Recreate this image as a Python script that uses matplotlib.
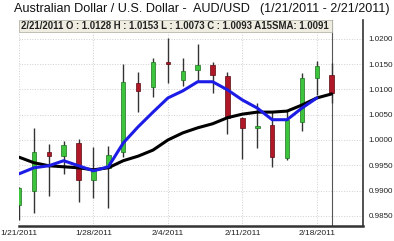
import numpy as np
import matplotlib
matplotlib.use("Agg")
import matplotlib.pyplot as plt
from matplotlib.patches import Rectangle

plt.rcParams['font.family'] = ['Liberation Sans', 'DejaVu Sans']

# trading days 1/21/2011 .. 2/21/2011 (weekdays only)
tick_labels = ['1/21/2011', '1/28/2011', '2/4/2011', '2/11/2011', '2/18/2011']
tick_pos = [0, 5, 10, 15, 20]

opens = [0.9872, 0.9899, 0.9976, 0.9968, 0.9994, 0.9921, 0.9945, 0.9976, 1.0113, 1.0105, 1.0154,
         1.0119, 1.0138, 1.0148, 1.0126, 1.0043, 1.0024, 1.0030, 0.9964, 1.0036, 1.0123, 1.0128]
highs = [0.9907, 1.0024, 0.9992, 0.9998, 1.0002, 0.9986, 0.9988, 1.0150, 1.0134, 1.0162, 1.0202,
         1.0162, 1.0190, 1.0154, 1.0134, 1.0045, 1.0073, 1.0057, 1.0059, 1.0132, 1.0156, 1.0153]
lows = [0.9842, 0.9856, 0.9889, 0.9933, 0.9877, 0.9885, 0.9866, 0.9966, 1.0055, 1.0085, 1.0113,
        1.0107, 1.0115, 1.0093, 1.0012, 0.9962, 0.9984, 0.9947, 0.9960, 1.0018, 1.0089, 1.0073]
closes = [0.9905, 0.9976, 0.9968, 0.9990, 0.9921, 0.9941, 0.9970, 1.0115, 1.0097, 1.0154, 1.0150,
          1.0136, 1.0148, 1.0128, 1.0043, 1.0024, 1.0028, 0.9966, 1.0040, 1.0123, 1.0146, 1.0093]

# short average (blue), ends one day before the last candle
blue_ma = [0.9933, 0.9945, 0.9949, 0.9959, 0.9949, 0.9939, 0.9947, 0.9994, 1.0026, 1.0055, 1.0083,
           1.0097, 1.0115, 1.0115, 1.0099, 1.0079, 1.0063, 1.0040, 1.0040, 1.0063, 1.0083]
# A15SMA (black)
sma15 = [0.9966, 0.9955, 0.9949, 0.9947, 0.9945, 0.9941, 0.9945, 0.9959, 0.9968, 0.9980, 1.0000,
         1.0014, 1.0024, 1.0032, 1.0044, 1.0051, 1.0055, 1.0055, 1.0057, 1.0069, 1.0083, 1.0091]

y_ticks = [0.9850, 0.9900, 0.9950, 1.0000, 1.0050, 1.0100, 1.0150, 1.0200]

fig = plt.figure(figsize=(3.94, 2.41), dpi=100)
ax = fig.add_axes([19 / 394, 15 / 241, 344 / 394, 206 / 241])

x = np.arange(len(opens))
o = np.array(opens)
c = np.array(closes)
up = c >= o

ax.vlines(x, lows, highs, color='#333333', lw=1.0, zorder=3)
ax.bar(x[up], (c - o)[up], bottom=o[up], width=0.3, color='#3cc43c',
       edgecolor='#1e6e1e', lw=0.5, zorder=4)
ax.bar(x[~up], (o - c)[~up], bottom=c[~up], width=0.3, color='#b01828',
       edgecolor='#5a0a10', lw=0.5, zorder=4)

ax.plot(np.arange(len(sma15)), sma15, color='black', lw=2.2, zorder=5, solid_capstyle='round')
ax.plot(np.arange(len(blue_ma)), blue_ma, color='#1c1ce6', lw=2.2, zorder=6, solid_capstyle='round')

ax.set_xlim(0, 23.1)
ax.set_ylim(0.9830, 1.0237)

ax.set_xticks(tick_pos)
ax.set_xticklabels(tick_labels, fontsize=6)
ax.set_yticks(y_ticks)
ax.set_yticklabels(['%.4f' % v for v in y_ticks], fontsize=5.8)
ax.yaxis.tick_right()
ax.tick_params(axis='x', length=0, pad=3, colors='#222222')
ax.tick_params(axis='y', length=0, pad=4, colors='#222222')

ax.grid(True, color='#cfcfcf', linestyle=':', lw=0.7)
ax.set_axisbelow(True)
for s in ['left', 'top']:
    ax.spines[s].set_visible(False)
ax.spines['right'].set_color('#333333')
ax.spines['right'].set_linewidth(1.2)
ax.spines['bottom'].set_color('#333333')
ax.spines['bottom'].set_linewidth(1.8)

# cursor line on last day
ax.axvline(21, color='#555555', lw=0.8, zorder=2)

# info box
box = Rectangle((0, 0.942), 21 / 23.1, 0.058, transform=ax.transAxes,
                facecolor='#efede2', edgecolor='#b8b6aa', lw=0.6, zorder=7, clip_on=False)
ax.add_patch(box)
ax.text(0.006, 0.971, '2/21/2011 O : 1.0128 H : 1.0153 L : 1.0073 C : 1.0093 A15SMA: 1.0091',
        transform=ax.transAxes, fontsize=6.95, fontweight='bold', color='#222222',
        va='center', ha='left', zorder=8)

# title in two pieces so both ends line up
fig.text(14 / 394, 1 - 9 / 241, 'Australian Dollar / U.S. Dollar -  AUD/USD',
         fontsize=9.05, va='center', ha='left', color='#111111')
fig.text(390 / 394, 1 - 9 / 241, '(1/21/2011 - 2/21/2011)',
         fontsize=9.0, va='center', ha='right', color='#111111')

plt.savefig('out.png', dpi=100)
plt.close()
